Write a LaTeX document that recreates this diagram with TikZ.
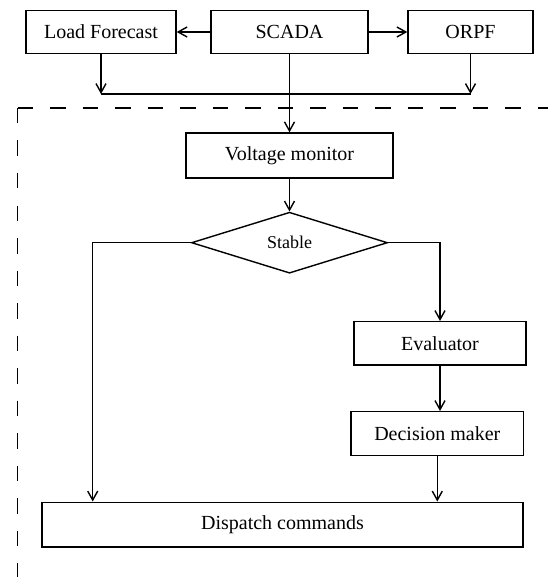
\documentclass[tikz,border=0pt]{standalone}
\usepackage{fontspec}
\setmainfont{Liberation Serif}
\usepackage{tikz}
\usetikzlibrary{positioning,arrows.meta,shapes.geometric,calc}

\begin{document}
\begin{tikzpicture}[x=0.5pt,y=-0.5pt,
	block/.style={draw,line width=0.7pt,rectangle,inner sep=0pt,minimum height=22pt},
	decision/.style={draw,line width=0.7pt,diamond,aspect=3,inner sep=0pt,minimum width=98pt,minimum height=30.5pt,font=\small},
	line/.style={draw,line width=0.7pt},
	arr/.style={draw,line width=0.7pt,-{Straight Barb[length=4.5pt,width=5pt]}},
	frame/.style={draw,line width=0.7pt,dash pattern=on 7.75pt off 8.5pt}]
	\useasboundingbox (0,0) rectangle (548,577);
	\node[block,minimum width=75pt,minimum height=21.3pt] (lf) at (101,32) {Load Forecast};
	\node[block,minimum width=78.5pt,minimum height=21.3pt] (scada) at (289.5,32) {SCADA};
	\node[block,minimum width=62.5pt,minimum height=21.3pt] (orpf) at (470.5,32) {ORPF};
	\node[block,minimum width=103.5pt,minimum height=22.5pt] (vm) at (289.5,155.5) {Voltage monitor};
	\node[decision] (stable) at (289.5,242.7) {Stable};
	\node[block,minimum width=86pt,minimum height=21.7pt] (eval) at (440,343.4) {Evaluator};
	\node[block,minimum width=86.3pt,minimum height=22pt] (dm) at (437.3,433.7) {Decision maker};
	\node[block,minimum width=240.5pt,minimum height=22.3pt] (dispatch) at (282.5,524.5) {Dispatch commands};
	\coordinate (mergeL) at (101,94);
	\coordinate (mergeR) at (470.5,94);
	\coordinate (corner) at (17.5,108);
	\draw[frame] (corner) -- (548,108);
	\draw[frame] (corner) -- (17.5,577);
	\draw[arr] (scada) -- (lf);
	\draw[arr] (scada) -- (orpf);
	\draw[arr] (lf.south) -- (mergeL);
	\draw[arr] (orpf.south) -- (mergeR);
	\draw[line] (mergeL) -- (mergeR);
	\draw[arr] (scada.south) -- (vm.north);
	\draw[arr] (vm.south) -- (stable.north);
	\draw[arr] (stable.west) -| ([xshift=25.7pt]dispatch.north west);
	\draw[arr] (stable.east) -| (eval.north);
	\draw[arr] (eval.south) -- (eval.south |- dm.north);
	\draw[arr] (dm.south) -- (dm.south |- dispatch.north);
\end{tikzpicture}
\end{document}
